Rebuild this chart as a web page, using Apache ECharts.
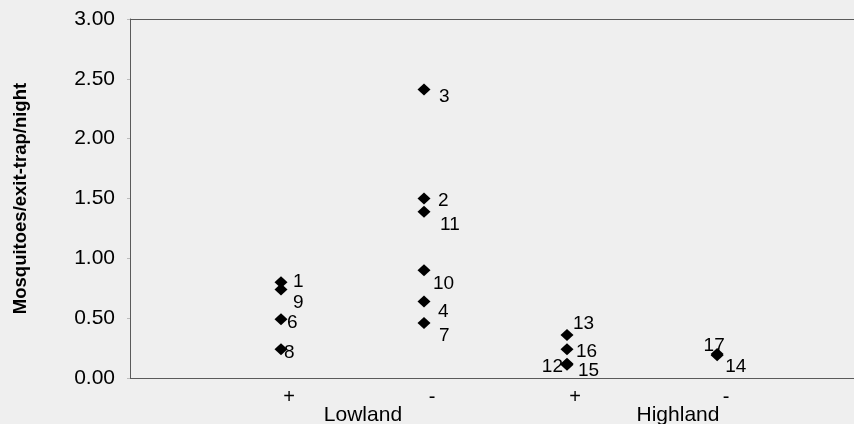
<!DOCTYPE html>
<html>
<head>
<meta charset="utf-8">
<script src="https://cdn.jsdelivr.net/npm/echarts@6/dist/echarts.min.js"></script>
<style>
  html, body { margin: 0; padding: 0; background: #efefef; }
  #chart { width: 854px; height: 424px; }
</style>
</head>
<body>
<div id="chart"></div>
<script>
// ---- data ----
const groupNames = ['Lowland +', 'Lowland -', 'Highland +', 'Highland -'];
const groupX = [1, 2, 3, 4.05];
const tickLabels = ['+', '-', '+', '-'];
const tickLabelX = [1.056, 2.056, 3.056, 4.112];
const regionLabels = ['Lowland', 'Highland'];
const regionLabelX = [1.573, 3.776];
const siteIds    = [1, 9, 6, 8,   3, 2, 11, 10, 4, 7,   13, 16, 12, 15,   17, 14];
const siteGroup  = [0, 0, 0, 0,   1, 1, 1, 1, 1, 1,     2, 2, 2, 2,       3, 3];
const siteValues = [0.80, 0.74, 0.49, 0.24,   2.41, 1.50, 1.39, 0.90, 0.64, 0.46,   0.36, 0.24, 0.12, 0.11,   0.20, 0.19];

// ---- label placement (style, not data) ----
const labelPlacement = {
  1: ['left', 12, -1], 9: ['left', 12, 13], 6: ['left', 6, 3], 8: ['left', 3, 3],
  3: ['left', 15, 7], 2: ['left', 14, 2], 11: ['left', 16, 13], 10: ['left', 9, 13],
  4: ['left', 14, 10], 7: ['left', 15, 13], 13: ['left', 6, -11], 16: ['left', 9, 2],
  12: ['right', -4, 3], 15: ['left', 11, 6], 17: ['center', -3, -8], 14: ['left', 8, 12]
};

const FONT = 'Liberation Sans, Arial, sans-serif';
const AXIS_COLOR = '#5a5a5a';
const pickLabel = (vals, labels) => (v) => {
  for (let i = 0; i < vals.length; i++) if (Math.abs(v - vals[i]) < 1e-6) return labels[i];
  return '';
};

const seriesData = siteIds.map((id, i) => {
  const p = labelPlacement[id];
  return {
    value: [groupX[siteGroup[i]], siteValues[i]],
    name: String(id),
    label: { align: p[0], offset: [p[1], p[2]] }
  };
});

const XMIN = -0.056, XMAX = 5.007;
const chart = echarts.init(document.getElementById('chart'), null, { renderer: 'canvas' });
chart.setOption({
  backgroundColor: '#efefef',
  animation: false,
  grid: { left: 130, top: 19, bottom: 46, right: 0, containLabel: false, outerBoundsMode: 'none' },
  xAxis: [
    {
      type: 'value', min: XMIN, max: XMAX,
      axisLine: { show: true, onZero: false, lineStyle: { color: AXIS_COLOR, width: 1 } },
      axisTick: { show: false }, splitLine: { show: false },
      axisLabel: {
        customValues: tickLabelX,
        formatter: pickLabel(tickLabelX, tickLabels),
        color: '#000', fontFamily: FONT, fontSize: 20, margin: 9
      }
    },
    {
      type: 'value', min: XMIN, max: XMAX, position: 'bottom',
      axisLine: { show: false }, axisTick: { show: false }, splitLine: { show: false },
      axisLabel: {
        customValues: regionLabelX,
        formatter: pickLabel(regionLabelX, regionLabels),
        color: '#000', fontFamily: FONT, fontSize: 21, margin: 27
      }
    },
    {
      type: 'value', min: XMIN, max: XMAX, position: 'top',
      axisLine: { show: true, onZero: false, lineStyle: { color: AXIS_COLOR, width: 1 } },
      axisTick: { show: false }, splitLine: { show: false }, axisLabel: { show: false }
    }
  ],
  yAxis: {
    type: 'value', min: 0, max: 3, interval: 0.5,
    name: 'Mosquitoes/exit-trap/night',
    nameLocation: 'middle', nameGap: 100, nameRotate: 90,
    nameTextStyle: { color: '#000', fontFamily: FONT, fontSize: 18.5, fontWeight: 'bold' },
    axisLine: { show: true, onZero: false, lineStyle: { color: AXIS_COLOR, width: 1 } },
    axisTick: { show: true, length: 3, lineStyle: { color: '#bbb' } },
    splitLine: { show: false },
    axisLabel: {
      color: '#000', fontFamily: FONT, fontSize: 21, margin: 15,
      formatter: (v) => v.toFixed(2)
    }
  },
  series: [{
    type: 'scatter',
    xAxisIndex: 0,
    symbol: 'diamond',
    symbolSize: [13, 12],
    itemStyle: { color: '#000', opacity: 1 },
    clip: false,
    label: {
      show: true, position: 'inside', verticalAlign: 'middle',
      formatter: (p) => p.name,
      color: '#000', fontFamily: FONT, fontSize: 19
    },
    data: seriesData
  }]
});
</script>
</body>
</html>
